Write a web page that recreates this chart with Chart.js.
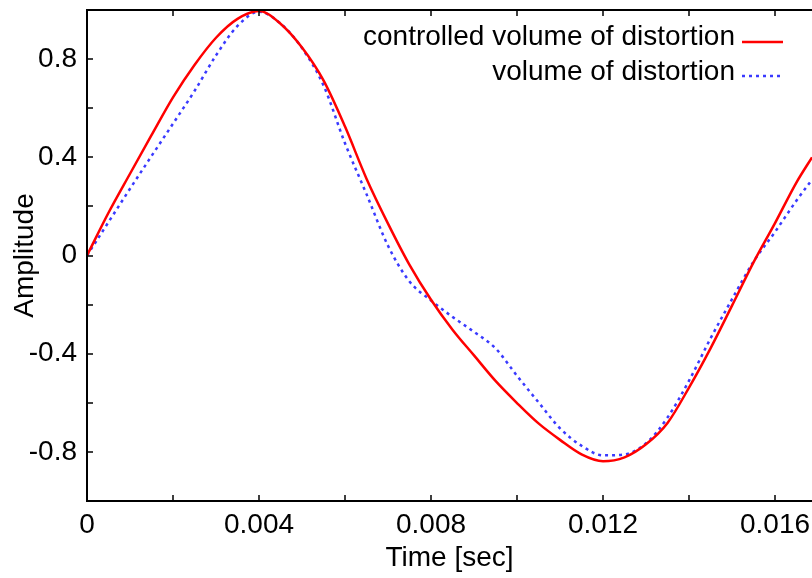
<!DOCTYPE html>
<html>
<head>
<meta charset="utf-8">
<script src="https://cdn.jsdelivr.net/npm/chart.js@4.4.1/dist/chart.umd.min.js"></script>
<style>
html,body{margin:0;padding:0;background:#fff;}
#wrap{width:812px;height:578px;position:relative;}
</style>
</head>
<body>
<div id="wrap"><canvas id="c"></canvas></div>
<script>
// time axis (sec)
const time = [0,0.0005,0.001,0.0015,0.002,0.0025,0.003,0.0035,0.004,0.0045,0.005,0.0055,0.006,0.0065,0.007,0.0075,0.008,0.0085,0.009,0.0095,0.01,0.0105,0.011,0.0115,0.012,0.0125,0.013,0.0135,0.014,0.0145,0.015,0.0155,0.016,0.0165,0.01686];
// controlled volume of distortion
const controlled = [0,0.174,0.333,0.490,0.644,0.776,0.887,0.964,0.996,0.944,0.847,0.713,0.525,0.313,0.130,-0.038,-0.180,-0.302,-0.407,-0.511,-0.601,-0.684,-0.751,-0.810,-0.838,-0.822,-0.769,-0.682,-0.538,-0.378,-0.204,-0.028,0.132,0.298,0.400];
// volume of distortion
const uncontrolled = [0,0.136,0.272,0.405,0.537,0.670,0.815,0.935,0.993,0.945,0.845,0.693,0.457,0.250,0.040,-0.106,-0.183,-0.250,-0.311,-0.378,-0.490,-0.598,-0.704,-0.775,-0.814,-0.810,-0.765,-0.660,-0.510,-0.338,-0.178,-0.025,0.096,0.224,0.309];

const seriesNames = ['controlled volume of distortion','volume of distortion'];
const xTicks = [0,0.004,0.008,0.012,0.016];
const xTickLabels = ['0','0.004','0.008','0.012','0.016'];
const yTicks = [-0.8,-0.4,0,0.4,0.8];
const yTickLabels = ['-0.8','-0.4','0','0.4','0.8'];
const xMinorStep = 0.002;
const yMinorStep = 0.2;
const X_MAX = 0.01686;

const FONT = '"Liberation Sans", Arial, Helvetica, sans-serif';
Chart.defaults.font.family = FONT;
Chart.defaults.font.size = 28;
Chart.defaults.color = '#000';

const RED = '#ff0000', BLUE = '#3a3aff';

// border, inward ticks, legend (text left of line sample)
const frame = {
  id:'frame',
  afterDatasetsDraw(chart){
    const {ctx, chartArea:a, scales:{x,y}} = chart;
    ctx.save();
    ctx.strokeStyle='#000';
    ctx.lineWidth=2;
    ctx.beginPath();
    ctx.moveTo(a.right+2,a.top); ctx.lineTo(a.left,a.top);
    ctx.lineTo(a.left,a.bottom); ctx.lineTo(a.right+2,a.bottom);
    ctx.stroke();
    ctx.lineWidth=1.5;
    ctx.beginPath();
    for(let i=1;i*xMinorStep<=X_MAX+1e-9;i++){
      const px=Math.round(x.getPixelForValue(i*xMinorStep));
      ctx.moveTo(px,a.bottom); ctx.lineTo(px,a.bottom-6);
      ctx.moveTo(px,a.top); ctx.lineTo(px,a.top+6);
    }
    for(let k=-4;k<=4;k++){
      const py=Math.round(y.getPixelForValue(k*yMinorStep));
      ctx.moveTo(a.left,py); ctx.lineTo(a.left+6,py);
    }
    ctx.stroke();

    // legend
    ctx.font='28px '+FONT;
    ctx.fillStyle='#000';
    ctx.textAlign='right';
    ctx.textBaseline='alphabetic';
    ctx.fillText(seriesNames[0],a.right-77,a.top+35);
    ctx.fillText(seriesNames[1],a.right-77,a.top+70);
    ctx.lineWidth=2.5;
    ctx.strokeStyle=RED;
    ctx.beginPath(); ctx.moveTo(a.right-70,a.top+32); ctx.lineTo(a.right-29,a.top+32); ctx.stroke();
    ctx.strokeStyle=BLUE;
    ctx.setLineDash([3,4]);
    ctx.beginPath(); ctx.moveTo(a.right-70,a.top+66); ctx.lineTo(a.right-29,a.top+66); ctx.stroke();
    ctx.restore();
  }
};

const pts = arr => time.map((t,i)=>({x:t,y:arr[i]}));

new Chart(document.getElementById('c'),{
  type:'line',
  data:{datasets:[
    {label:seriesNames[0],data:pts(controlled),borderColor:RED,borderWidth:2.5,pointRadius:0,cubicInterpolationMode:'monotone',fill:false},
    {label:seriesNames[1],data:pts(uncontrolled),borderColor:BLUE,borderWidth:2.5,borderDash:[3,4],pointRadius:0,cubicInterpolationMode:'monotone',fill:false}
  ]},
  options:{
    responsive:true,
    maintainAspectRatio:false,
    animation:false,
    layout:{padding:{top:10,right:0,left:0,bottom:0}},
    plugins:{legend:{display:false},tooltip:{enabled:false}},
    scales:{
      x:{
        type:'linear',min:0,max:X_MAX,
        afterBuildTicks:s=>{s.ticks=xTicks.map(v=>({value:v}));},
        afterFit:s=>{s.height=77;s.paddingLeft=0;s.paddingRight=0;},
        grid:{display:false,drawTicks:false},
        border:{display:false},
        ticks:{padding:7,maxRotation:0,autoSkip:false,callback:(v,i)=>xTickLabels[i]},
        title:{display:true,text:'Time [sec]',padding:{top:0,bottom:3}}
      },
      y:{
        min:-1,max:1,
        afterBuildTicks:s=>{s.ticks=yTicks.map(v=>({value:v}));},
        afterFit:s=>{s.width=87;s.paddingTop=0;s.paddingBottom=0;},
        grid:{display:false,drawTicks:false},
        border:{display:false},
        ticks:{padding:10,autoSkip:false,callback:(v,i)=>yTickLabels[i]},
        title:{display:true,text:'Amplitude',padding:{top:8,bottom:0}}
      }
    }
  },
  plugins:[frame]
});
</script>
</body>
</html>
